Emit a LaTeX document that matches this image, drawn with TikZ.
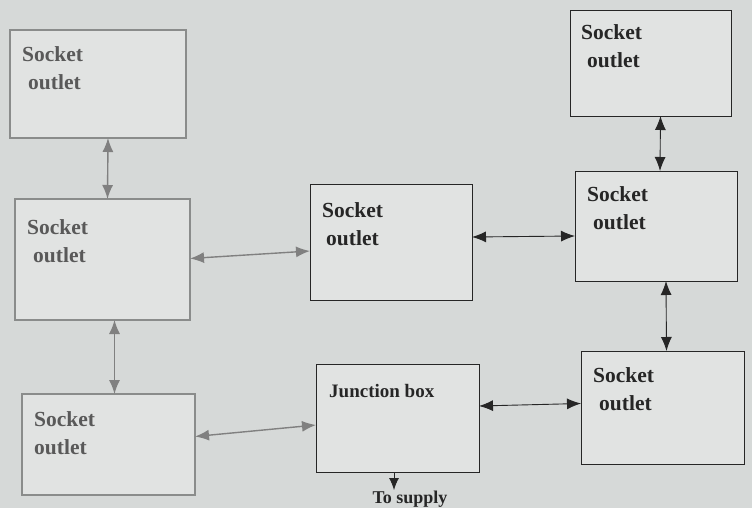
\documentclass[tikz,border=0pt]{standalone}
\usepackage{fontspec}
\setmainfont{Liberation Serif}
\usetikzlibrary{arrows.meta}
\definecolor{bg}{HTML}{D6D9D8}
\definecolor{boxfill}{HTML}{E1E3E2}
\definecolor{shade}{HTML}{8A8C8B}
\tikzset{
  box/.style={draw=black!85, line width=0.9pt, fill=boxfill, anchor=north west, outer sep=0pt, inner sep=0pt},
  fuzzybox/.style={box, draw=shade, line width=2.2pt},
  lbl/.style={anchor=north west, align=left, inner sep=0pt, font=\fontsize{21.5}{28}\selectfont\bfseries, text=black!85},
  fuzzylbl/.style={lbl, text=black!65},
  link/.style={line width=0.9pt, black!85, {Latex[length=14pt,width=11pt]}-{Latex[length=14pt,width=11pt]}},
  fuzzylink/.style={link, draw=black!50, line width=1.4pt},
  onelink/.style={line width=0.9pt, black!85, -{Latex[length=12pt,width=10pt]}}
}
\begin{document}
\begin{tikzpicture}[x=1pt,y=-1pt]
\path[fill=bg] (0,0) rectangle (752,508);
\clip (0,0) rectangle (752,508);
% boxes
\node[fuzzybox, minimum width=176pt, minimum height=108pt] (b1) at (10,30) {};
\node[fuzzybox, minimum width=175pt, minimum height=121pt] (b2) at (15,199) {};
\node[fuzzybox, minimum width=173pt, minimum height=101pt] (b3) at (22,394) {};
\node[box, minimum width=162pt, minimum height=116pt] (b4) at (310,184) {};
\node[box, minimum width=163pt, minimum height=108pt] (j) at (316,364) {};
\node[box, minimum width=161pt, minimum height=106pt] (b6) at (570,10) {};
\node[box, minimum width=162pt, minimum height=110pt] (b7) at (575,171) {};
\node[box, minimum width=163pt, minimum height=113pt] (b8) at (581,351) {};
% labels
\node[fuzzylbl] (t1) at ([shift={(12pt,-16pt)}]b1.north west) {Socket\\\hspace{6pt}outlet};
\node[fuzzylbl] (t2) at ([shift={(12pt,-20pt)}]b2.north west) {Socket\\\hspace{6pt}outlet};
\node[fuzzylbl] (t3) at ([shift={(12pt,-17pt)}]b3.north west) {Socket\\outlet};
\node[lbl] (t4) at ([shift={(12pt,-18pt)}]b4.north west) {Socket\\\hspace{4pt}outlet};
\node[lbl, font=\fontsize{19}{28}\selectfont\bfseries] (tj) at ([shift={(13pt,-20pt)}]j.north west) {Junction box};
\node[lbl] (t6) at ([shift={(11pt,-14pt)}]b6.north west) {Socket\\\hspace{6pt}outlet};
\node[lbl] (t7) at ([shift={(12pt,-15pt)}]b7.north west) {Socket\\\hspace{6pt}outlet};
\node[lbl] (t8) at ([shift={(12pt,-16pt)}]b8.north west) {Socket\\\hspace{6pt}outlet};
% connectors
\draw[fuzzylink] ([xshift=10pt]b1.south) -- ([xshift=5pt]b2.north);
\draw[fuzzylink] ([xshift=12pt]b2.south) -- ([xshift=6pt]b3.north);
\draw[fuzzylink] ([yshift=1pt]b2.east) -- ([yshift=-9pt]b4.west);
\draw[fuzzylink] ([yshift=8pt]b3.east) -- ([yshift=-7pt]j.west);
\draw[link] ([yshift=5pt]b4.east) -- ([yshift=-10pt]b7.west);
\draw[link] ([yshift=12pt]j.east) -- ([yshift=4pt]b8.west);
\draw[link] ([xshift=10pt]b6.south) -- ([xshift=4pt]b7.north);
\draw[link] ([xshift=10pt]b7.south) -- ([xshift=4pt]b8.north);
\coordinate (sup) at (394,490);
\draw[onelink] (j.south -| sup) -- (sup);
\node[lbl, anchor=base, font=\fontsize{18}{20}\selectfont\bfseries] (ts) at (410,503) {To supply};
\end{tikzpicture}
\end{document}
